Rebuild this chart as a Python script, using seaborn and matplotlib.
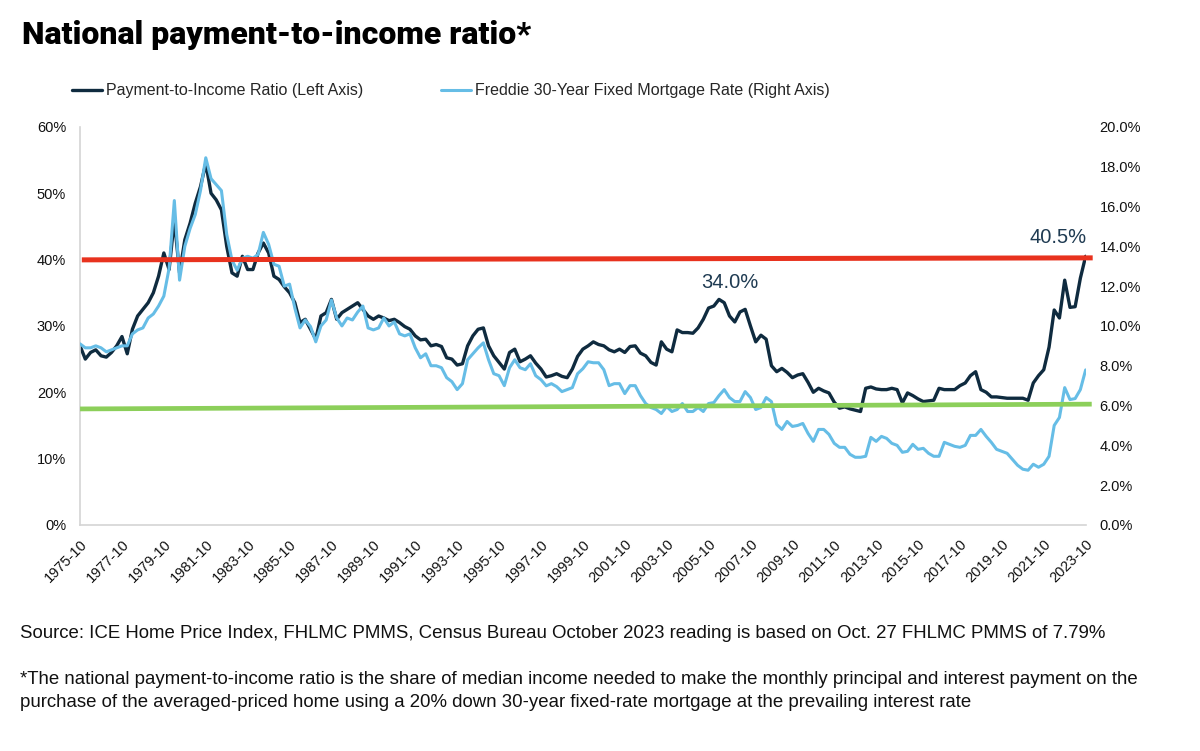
import pandas as pd
import numpy as np
import matplotlib
matplotlib.use("Agg")
import matplotlib.pyplot as plt
import seaborn as sns
from matplotlib.lines import Line2D

# quarterly readings (Jan, Apr, Jul, Oct), Oct 1975 -> Oct 2023
dates = pd.date_range("1975-10-01", "2023-10-01", freq="QS-OCT")

# payment-to-income ratio, % (left axis)
pti = [
    27.0,
    25.0, 26.0, 26.4, 25.5,   # 1976
    25.3, 26.0, 27.0, 28.4,   # 1977
    25.8, 29.5, 31.5, 32.5,   # 1978
    33.5, 35.0, 37.5, 41.0,   # 1979
    38.5, 46.0, 38.0, 43.0,   # 1980
    45.5, 48.5, 51.0, 54.5,   # 1981
    50.0, 49.0, 47.5, 42.0,   # 1982
    38.0, 37.5, 40.5, 38.5,   # 1983
    38.5, 41.0, 42.5, 41.0,   # 1984
    37.5, 37.0, 35.9, 35.0,   # 1985
    33.5, 30.5, 31.0, 29.5,   # 1986
    28.0, 31.5, 32.0, 34.0,   # 1987
    31.0, 32.0, 32.5, 33.0,   # 1988
    33.5, 32.5, 31.5, 31.0,   # 1989
    31.5, 31.2, 30.8, 31.0,   # 1990
    30.5, 29.9, 29.5, 28.5,   # 1991
    27.9, 28.0, 27.0, 27.2,   # 1992
    26.9, 25.2, 25.0, 24.1,   # 1993
    24.3, 27.0, 28.5, 29.5,   # 1994
    29.7, 27.0, 25.5, 24.5,   # 1995
    23.5, 26.0, 26.5, 24.6,   # 1996
    25.0, 25.5, 24.4, 23.5,   # 1997
    22.3, 22.5, 22.8, 22.4,   # 1998
    22.2, 23.5, 25.4, 26.5,   # 1999
    27.0, 27.6, 27.2, 27.0,   # 2000
    26.4, 26.1, 26.5, 26.0,   # 2001
    26.9, 27.0, 25.9, 25.5,   # 2002
    24.5, 24.1, 27.6, 26.5,   # 2003
    26.1, 29.4, 29.0, 29.0,   # 2004
    28.9, 29.7, 31.0, 32.7,   # 2005
    33.0, 34.0, 33.5, 31.5,   # 2006
    30.6, 32.1, 32.5, 30.0,   # 2007
    27.6, 28.6, 28.0, 24.0,   # 2008
    23.1, 23.6, 23.0, 22.2,   # 2009
    22.6, 22.8, 21.5, 20.0,   # 2010
    20.6, 20.2, 19.9, 18.5,   # 2011
    17.6, 17.8, 17.5, 17.3,   # 2012
    17.1, 20.6, 20.8, 20.5,   # 2013
    20.4, 20.4, 20.6, 20.4,   # 2014
    18.4, 19.9, 19.5, 19.0,   # 2015
    18.6, 18.7, 18.8, 20.6,   # 2016
    20.4, 20.4, 20.4, 21.0,   # 2017
    21.4, 22.5, 23.1, 20.4,   # 2018
    20.0, 19.3, 19.3, 19.2,   # 2019
    19.1, 19.1, 19.1, 19.1,   # 2020
    18.8, 21.4, 22.5, 23.4,   # 2021
    26.8, 32.4, 31.2, 36.9,   # 2022
    32.8, 32.9, 37.2, 40.5,   # 2023
]

# Freddie Mac 30-year fixed rate, % (right axis)
rate = [
    9.1,
    8.9, 8.9, 9.0, 8.9,
    8.7, 8.8, 8.9, 9.0,
    9.0, 9.6, 9.8, 9.9,
    10.4, 10.6, 11.0, 11.5,
    12.9, 16.3, 12.3, 14.0,
    14.9, 15.6, 16.8, 18.45,
    17.4, 17.1, 16.8, 14.6,
    13.3, 12.8, 13.4, 13.5,
    13.4, 13.6, 14.7, 14.1,
    13.1, 13.0, 12.0, 12.1,
    10.9, 9.9, 10.3, 9.97,
    9.2, 10.0, 10.3, 11.3,
    10.4, 10.0, 10.4, 10.3,
    10.7, 11.0, 9.9, 9.8,
    9.9, 10.4, 10.0, 10.2,
    9.6, 9.5, 9.6, 8.9,
    8.4, 8.6, 8.0, 8.0,
    7.9, 7.4, 7.2, 6.8,
    7.1, 8.3, 8.6, 8.9,
    9.15, 8.3, 7.6, 7.5,
    7.0, 7.9, 8.3, 7.9,
    7.8, 8.1, 7.5, 7.3,
    6.99, 7.1, 6.95, 6.7,
    6.8, 6.9, 7.6, 7.85,
    8.2, 8.15, 8.15, 7.8,
    7.0, 7.1, 7.1, 6.6,
    7.0, 7.0, 6.5, 6.1,
    5.9, 5.8, 5.6, 5.95,
    5.7, 5.8, 6.1, 5.7,
    5.7, 5.9, 5.7, 6.1,
    6.15, 6.5, 6.8, 6.4,
    6.2, 6.2, 6.7, 6.4,
    5.8, 5.9, 6.4, 6.2,
    5.05, 4.8, 5.2, 4.95,
    5.0, 5.1, 4.6, 4.2,
    4.8, 4.8, 4.55, 4.1,
    3.9, 3.9, 3.55, 3.4,
    3.4, 3.45, 4.4, 4.2,
    4.45, 4.35, 4.1, 4.0,
    3.65, 3.7, 4.05, 3.8,
    3.85, 3.6, 3.45, 3.45,
    4.15, 4.05, 3.95, 3.9,
    4.0, 4.5, 4.5, 4.8,
    4.45, 4.15, 3.8, 3.7,
    3.6, 3.3, 3.0, 2.8,
    2.75, 3.05, 2.9, 3.05,
    3.45, 5.0, 5.4, 6.9,
    6.3, 6.35, 6.8, 7.79,
]

# reference lines, in right-axis units (start, end)
red_ref = [13.32, 13.42]
red_dates = pd.to_datetime(["1975-11-01", "2024-02-01"])
green_ref = [5.83, 6.07]
green_dates = pd.to_datetime(["1975-10-01", "2024-01-15"])

tick_dates = pd.date_range("1975-10-01", "2023-10-01", freq="24MS")
left_ticks = [0, 10, 20, 30, 40, 50, 60]
right_ticks = [0, 2, 4, 6, 8, 10, 12, 14, 16, 18, 20]

DARK = "#0f2b3f"
LIGHT = "#66bde6"
RED = "#e8321e"
GREEN = "#8ccf5a"

sns.set_style("white")
plt.rcParams["font.family"] = ["Liberation Sans", "DejaVu Sans"]

fig = plt.figure(figsize=(12, 7.51), dpi=100)
ax = fig.add_axes([0.0667, 0.301, 0.838, 0.530])
ax2 = ax.twinx()

df = pd.DataFrame({"date": dates, "pti": pti, "rate": rate})
sns.lineplot(data=df, x="date", y="pti", ax=ax, color=DARK, lw=2.4)
sns.lineplot(data=df, x="date", y="rate", ax=ax2, color=LIGHT, lw=2.2)

ax2.plot(red_dates, red_ref, color=RED, lw=3.6, clip_on=False, solid_capstyle="butt")
ax2.plot(green_dates, green_ref, color=GREEN, lw=3.4, clip_on=False, solid_capstyle="butt")

ax.set_xlim(dates[0], dates[-1])
ax.set_ylim(0, 60)
ax2.set_ylim(0, 20)

ax.set_yticks(left_ticks)
ax.set_yticklabels([f"{t}%" for t in left_ticks])
ax2.set_yticks(right_ticks)
ax2.set_yticklabels([f"{t:.1f}%" for t in right_ticks])

ax.set_xticks(tick_dates)
ax.set_xticklabels([d.strftime("%Y-%m") for d in tick_dates],
                   rotation=45, ha="right", rotation_mode="anchor")

ax.set_xlabel("")
ax.set_ylabel("")
ax2.set_ylabel("")

for a in (ax, ax2):
    for s in ["top", "right"]:
        a.spines[s].set_visible(False)
ax2.spines["left"].set_visible(False)
ax2.spines["bottom"].set_visible(False)
ax.spines["left"].set_color("#d4d4d4")
ax.spines["bottom"].set_color("#d4d4d4")
ax.spines["left"].set_linewidth(1.2)
ax.spines["bottom"].set_linewidth(1.2)

ax.tick_params(axis="x", length=5, color="#d4d4d4", width=1.2, labelsize=10.5,
               labelcolor="#111111", pad=4)
ax.tick_params(axis="y", length=0, labelsize=10.5, labelcolor="#111111", pad=10)
ax2.tick_params(axis="y", length=0, labelsize=10.5, labelcolor="#111111", pad=10)

# peak labels
ax.annotate("34.0%", xy=(pd.Timestamp("2006-10-01"), 34.0), xytext=(0, 5),
            textcoords="offset points", ha="center", va="bottom",
            fontsize=14.5, color="#1f3b52")
ax.annotate("40.5%", xy=(pd.Timestamp("2023-10-01"), 40.5), xytext=(1, 7),
            textcoords="offset points", ha="right", va="bottom",
            fontsize=14.5, color="#1f3b52")

handles = [Line2D([], [], color=DARK, lw=2.4), Line2D([], [], color=LIGHT, lw=2.2)]
fig.legend(handles, ["Payment-to-Income Ratio (Left Axis)",
                     "Freddie 30-Year Fixed Mortgage Rate (Right Axis)"],
           loc="center left", bbox_to_anchor=(0.048, 0.879), ncol=2, frameon=False,
           fontsize=11.5, handlelength=1.9, handletextpad=0.2, columnspacing=4.9)

fig.text(0.018, 0.953, "National payment-to-income ratio*", fontsize=23,
         family=["Roboto", "Liberation Sans"], fontweight="black",
         va="center", ha="left", color="black")

note_kw = dict(fontsize=13.4, va="center", ha="left", color="#111111")
fig.text(0.017, 0.156, "Source: ICE Home Price Index, FHLMC PMMS, Census Bureau "
         "October 2023 reading is based on Oct. 27 FHLMC PMMS of 7.79%", **note_kw)
fig.text(0.017, 0.095, "*The national payment-to-income ratio is the share of median "
         "income needed to make the monthly principal and interest payment on the",
         **note_kw)
fig.text(0.017, 0.064, "purchase of the averaged-priced home using a 20% down "
         "30-year fixed-rate mortgage at the prevailing interest rate", **note_kw)

fig.savefig("out.png", dpi=100, facecolor="white")
